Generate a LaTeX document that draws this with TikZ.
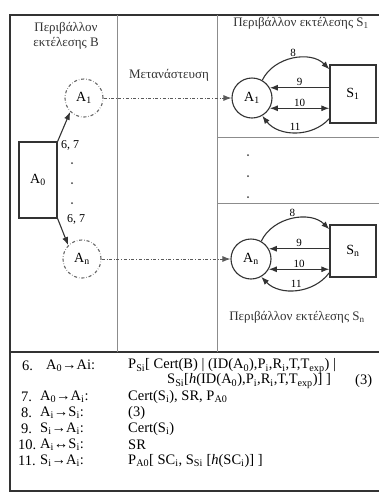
\documentclass[tikz,border=0pt]{standalone}
\usepackage{fontspec}
\setmainfont{Liberation Serif}
\usetikzlibrary{arrows.meta,positioning,calc}
\tikzset{
    frame/.style={draw=black!80, line width=1.6pt},
    divider/.style={draw=black!45, line width=0.8pt},
    agentbox/.style={
        draw=black!80,
        line width=1.3pt,
        minimum width=38pt,
        minimum height=76pt,
        font=\fontsize{14}{16}\selectfont
    },
    agent/.style={
        draw=black!80,
        circle,
        line width=1.1pt,
        minimum size=40pt,
        inner sep=0pt,
        font=\fontsize{14}{16}\selectfont
    },
    ghost/.style={
        draw=black!60,
        circle,
        dash dot,
        line width=1.1pt,
        minimum size=38pt,
        inner sep=0pt,
        font=\fontsize{14}{16}\selectfont
    },
    host/.style={
        draw=black!80,
        line width=1.3pt,
        minimum width=46pt,
        minimum height=58pt,
        font=\fontsize{14}{16}\selectfont
    },
    title/.style={font=\fontsize{13}{15}\selectfont, text=black!80},
    lbl/.style={font=\fontsize{12}{14}\selectfont, inner sep=1pt},
    num/.style={font=\fontsize{11}{12}\selectfont, inner sep=1.5pt},
    row/.style={anchor=west, inner sep=0pt, font=\fontsize{14.5}{16}\selectfont},
    flow/.style={-{Latex[length=8pt,width=6pt]}, line width=1.1pt, draw=black!80},
    flowboth/.style={{Latex[length=8pt,width=6pt]}-{Latex[length=8pt,width=6pt]}, line width=1.1pt, draw=black!80},
    migrate/.style={-{Latex[length=8pt,width=6pt]}, dash dot, line width=0.9pt, draw=black!65}
}
\newcommand{\idx}[1]{\textsubscript{#1}}

\begin{document}
\begin{tikzpicture}[x=1pt, y=-1pt]
    \useasboundingbox (0,0) rectangle (379,499);
    % frame and panels
    \draw[frame] (379,15) -| (10,491) -- (379,491);
    \draw[frame] (10,352) -- (379,352);
    \draw[divider] (117,15) -- (117,352);
    \draw[divider] (217,15) -- (217,352);
    \draw[divider] (217,137) -- (379,137);
    \draw[divider] (217,203) -- (379,203);

    % environment B
    \node[title, align=center] (envB) at (66,36) {Περιβάλλον\\εκτέλεσης B};
    \node[agentbox] (a0) at (38,180) {A\idx{0}};
    \node[ghost] (g1) at (84,98) {A\idx{1}};
    \node[ghost] (gn) at (82,259) {A\idx{n}};
    \draw[flow] (a0.north east) -- (g1.south west);
    \draw[flow] (a0.south east) -- (gn.north west);
    \node[lbl] (m1) at (70,145) {6, 7};
    \node[lbl] (mn) at (76,219) {6, 7};
    \foreach \y in {163,183,203}
        \fill[black!75] (72,\y) circle (1pt);

    % environment S1
    \node[title] (envS1) at (301,23) {Περιβάλλον εκτέλεσης S\idx{1}};
    \node[agent] (a1) at (252,98) {A\idx{1}};
    \node[host] (s1) at (353,94) {S\idx{1}};
    \draw[flow] (a1.60) to[bend left=55] node[num, above] {8} ([yshift=-5pt]s1.north west);
    \draw[flow] (s1.west |- a1.30) -- node[num, above] {9} (a1.30);
    \draw[flowboth] (a1.-30) -- node[num, above] {10} (s1.west |- a1.-30);
    \draw[flow] ([yshift=5pt]s1.south west) to[bend left=50] node[num, above] {11} (a1.-60);

    \foreach \y in {155,176,197}
        \fill[black!75] (248,\y) circle (1pt);

    % environment Sn
    \node[agent] (an) at (251,259) {A\idx{n}};
    \node[host, minimum height=52pt] (sn) at (353,251) {S\idx{n}};
    \draw[flow] (an.60) to[bend left=55] node[num, above] {8} ([yshift=-5pt]sn.north west);
    \draw[flow] (sn.west |- an.30) -- node[num, above] {9} (an.30);
    \draw[flowboth] (an.-30) -- node[num, above] {10} (sn.west |- an.-30);
    \draw[flow] ([yshift=5pt]sn.south west) to[bend left=50] node[num, above] {11} (an.-60);
    \node[title] (envSn) at (297,317) {Περιβάλλον εκτέλεσης S\idx{n}};

    % migration
    \node[title] (mig) at (169,75) {Μετανάστευση};
    \draw[migrate] (g1) -- (a1);
    \draw[migrate] (gn) -- (an);

    % protocol steps
    \node[row] (r6n) at (22,366) {6.};
    \node[row] (r6l) at (46,366) {A\idx{0}→Ai:};
    \node[row] (r6c) at (128,366) {P\idx{Si}[ Cert(B) | (ID(A\idx{0}),P\idx{i},R\idx{i},T,T\idx{exp}) |};
    \node[row] (r6d) at (167,381) {S\idx{Si}[\textit{h}(ID(A\idx{0}),P\idx{i},R\idx{i},T,T\idx{exp})] ]};
    \node[row] (r6e) at (355,381) {(3)};
    \node[row] (r7n) at (21,397) {7.};
    \node[row] (r7l) at (40,397) {A\idx{0}→A\idx{i}:};
    \node[row] (r7c) at (128,397) {Cert(S\idx{i}), SR, P\idx{A0}};
    \node[row] (r8n) at (21,413) {8.};
    \node[row] (r8l) at (40,413) {A\idx{i}→S\idx{i}:};
    \node[row] (r8c) at (128,413) {(3)};
    \node[row] (r9n) at (21,429) {9.};
    \node[row] (r9l) at (40,429) {S\idx{i}→A\idx{i}:};
    \node[row] (r9c) at (128,429) {Cert(S\idx{i})};
    \node[row] (r10n) at (18,445) {10.};
    \node[row] (r10l) at (40,445) {A\idx{i}↔S\idx{i}:};
    \node[row] (r10c) at (128,445) {SR};
    \node[row] (r11n) at (18,461) {11.};
    \node[row] (r11l) at (40,461) {S\idx{i}→A\idx{i}:};
    \node[row] (r11c) at (128,461) {P\idx{A0}[ SC\idx{i}, S\idx{Si} [\textit{h}(SC\idx{i})] ]};
\end{tikzpicture}
\end{document}
